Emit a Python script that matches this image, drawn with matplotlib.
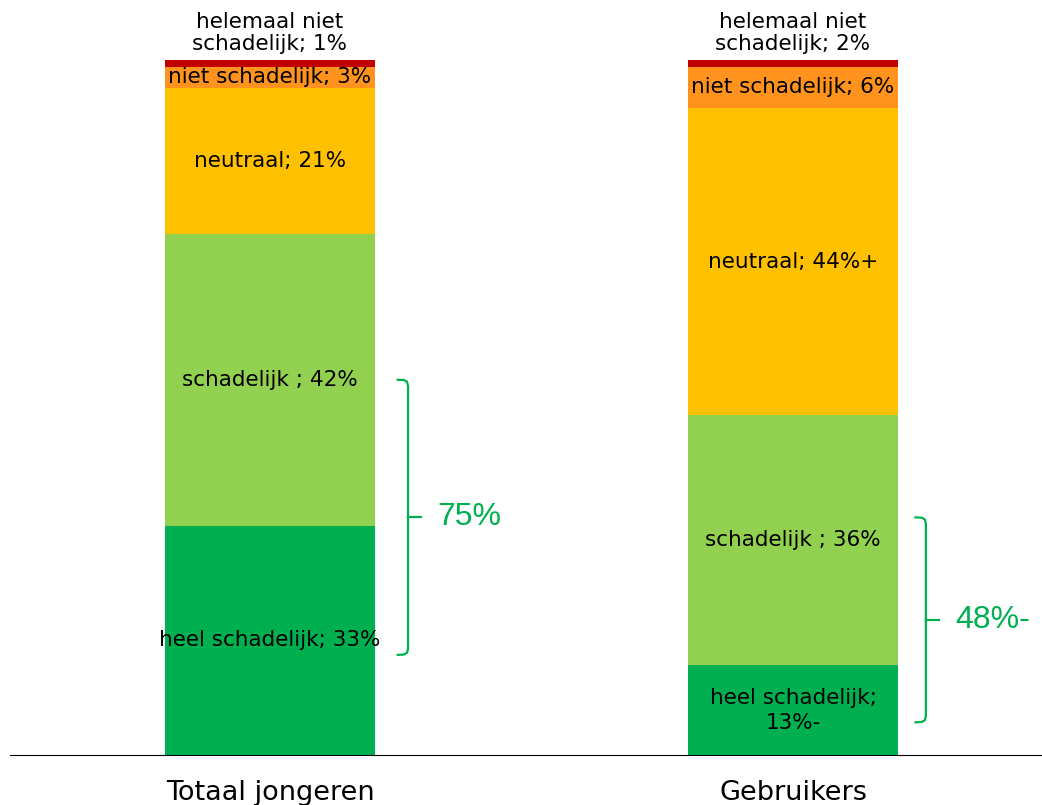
import matplotlib
matplotlib.use('Agg')
import matplotlib.pyplot as plt

# data
groups = ['Totaal jongeren', 'Gebruikers']
segments = ['heel schadelijk', 'schadelijk', 'neutraal', 'niet schadelijk', 'helemaal niet schadelijk']
totaal = [33, 42, 21, 3, 1]
gebruikers = [12.9, 36.0, 44.2, 5.9, 1.0]
totaal_labels = ['heel schadelijk; 33%', 'schadelijk ; 42%', 'neutraal; 21%',
                 'niet schadelijk; 3%', 'helemaal niet\nschadelijk; 1%']
gebruikers_labels = ['heel schadelijk;\n13%-', 'schadelijk ; 36%', 'neutraal; 44%+',
                     'niet schadelijk; 6%', 'helemaal niet\nschadelijk; 2%']
# summary brackets (bottom, top, text)
bracket_range = [(14.4, 54.0), (4.7, 34.2)]
bracket_text = ['75%', '48%-']

colors = ['#00B050', '#92D050', '#FFC000', '#FF931E', '#C00000']
green = '#00B050'

fig = plt.figure(figsize=(10.42, 8.05), dpi=100)
ax = fig.add_axes([0.0096, 0.0621, 0.9904, 0.8634])

x = [0, 1]
width = 0.40
values = [totaal, gebruikers]
labels = [totaal_labels, gebruikers_labels]

for i in range(len(groups)):
	bottom = 0
	for j in range(len(segments)):
		v = values[i][j]
		ax.bar(x[i], v, width, bottom=bottom, color=colors[j], edgecolor='none')
		if j == len(segments) - 1:
			ax.text(x[i], bottom + v + 0.8, labels[i][j], ha='center', va='bottom',
					fontsize=15.5, linespacing=1.15)
		else:
			ax.text(x[i], bottom + v / 2, labels[i][j], ha='center', va='center',
					fontsize=15.5, linespacing=1.3)
		bottom += v

# green brackets
bx = [0.264, 0.254]
for i in range(len(groups)):
	lo, hi = bracket_range[i]
	mid = (lo + hi) / 2
	xv = x[i] + bx[i]
	ax.plot([xv - 0.022, xv - 0.008, xv - 0.002, xv, xv, xv - 0.002, xv - 0.008, xv - 0.022],
			[lo, lo + 0.05, lo + 0.3, lo + 0.9, hi - 0.9, hi - 0.3, hi - 0.05, hi],
			color=green, lw=1.6, solid_joinstyle='round', solid_capstyle='butt')
	ax.plot([xv, xv + 0.025], [mid, mid], color=green, lw=1.6)
	ax.text(xv + 0.057, mid, bracket_text[i], color=green, fontsize=23,
			family='Liberation Sans', ha='left', va='center')

ax.set_xlim(-0.497, 1.476)
ax.set_ylim(0, 100)
for s in ['top', 'right', 'left']:
	ax.spines[s].set_visible(False)
ax.spines['bottom'].set_linewidth(0.8)
ax.set_yticks([])
ax.set_xticks(x)
ax.set_xticklabels(groups, fontsize=19.5)
ax.tick_params(axis='x', length=0, pad=18)

fig.savefig('out.png', dpi=100)
